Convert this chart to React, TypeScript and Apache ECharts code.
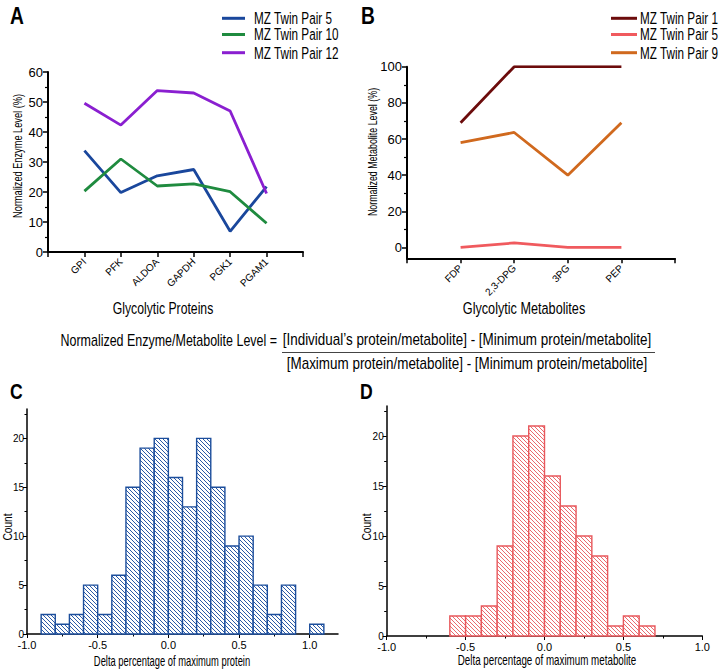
import React, { useEffect, useRef } from "react";
import * as echarts from "echarts";

// ---------- data ----------
const proteinCats = ["GPI", "PFK", "ALDOA", "GAPDH", "PGK1", "PGAM1"];
const enzymePair5 = [33.8, 19.8, 25.4, 27.5, 6.9, 21.8];
const enzymePair10 = [20.3, 31.0, 22.0, 22.7, 20.1, 9.6];
const enzymePair12 = [49.6, 42.3, 53.8, 53.0, 47.0, 19.5];

const metaboliteCats = ["FDP", "2,3-DPG", "3PG", "PEP"];
const metabPair1 = [69, 100, 100, 100];
const metabPair5 = [0, 2.5, 0, 0];
const metabPair9 = [58, 63.6, 40, 69];

const proteinBinEdges = [-0.9, -0.8, -0.7, -0.6, -0.5, -0.4, -0.3, -0.2, -0.1, 0, 0.1, 0.2, 0.3, 0.4, 0.5, 0.6, 0.7, 0.8, 0.9, 1.0, 1.1];
const proteinCounts = [2, 1, 2, 5, 2, 6, 15, 19, 20, 16, 13, 20, 15, 9, 10, 5, 2, 5, 0, 1];

const metabBinEdges = [-0.6, -0.5, -0.4, -0.3, -0.2, -0.1, 0, 0.1, 0.2, 0.3, 0.4, 0.5, 0.6, 0.7];
const metabCounts = [2, 2, 3, 9, 20, 21, 16, 13, 10, 8, 1, 2, 1];

const histXLabels = [-1, -0.5, 0, 0.5, 1];
const histXMinor = [-0.75, -0.25, 0.25, 0.75];
const countLabels = [0, 5, 10, 15, 20];
const countMinor = [2.5, 7.5, 12.5, 17.5, 22.5];
const metabYLabels = [0, 20, 40, 60, 80, 100];
const metabYMinor = [10, 30, 50, 70, 90];

const legendA = ["MZ Twin Pair 5", "MZ Twin Pair 10", "MZ Twin Pair 12"];
const legendB = ["MZ Twin Pair 1", "MZ Twin Pair 5", "MZ Twin Pair 9"];
const colorsA = ["#1a479c", "#1f8b3f", "#8a1fd0"];
const colorsB = ["#6c0c0c", "#f05a5e", "#d0691e"];

const SANS = '"Liberation Sans", Arial, sans-serif';

function hatch(color: string) {
  const c = document.createElement("canvas");
  const s = 4;
  c.width = s;
  c.height = s;
  const ctx = c.getContext("2d")!;
  ctx.fillStyle = "#ffffff";
  ctx.fillRect(0, 0, s, s);
  ctx.strokeStyle = color;
  ctx.lineWidth = 1;
  ctx.beginPath();
  ctx.moveTo(-1, -1);
  ctx.lineTo(s + 1, s + 1);
  ctx.moveTo(-1, s - 1);
  ctx.lineTo(1, s + 1);
  ctx.moveTo(s - 1, -1);
  ctx.lineTo(s + 1, 1);
  ctx.stroke();
  return { image: c, repeat: "repeat" };
}

function histData(edges: number[], counts: number[]) {
  const out: number[][] = [];
  counts.forEach((v, i) => {
    if (v > 0) out.push([edges[i], edges[i + 1], v]);
  });
  return out;
}

// condensed-looking text via horizontal scaling
function ctext(text: string, x: number, y: number, size: number, sx: number, opts: any = {}) {
  return {
    type: "text",
    x,
    y,
    scaleX: sx,
    rotation: opts.rotation || 0,
    style: {
      text,
      font: `${opts.bold ? "bold " : ""}${size}px ${SANS}`,
      fill: "#000",
      align: opts.align || "center",
      verticalAlign: "middle",
    },
  };
}

const black = { lineStyle: { color: "#000", width: 2 } };

export default function App() {
  const ref = useRef<HTMLDivElement>(null);
  useEffect(() => {
    const chart = echarts.init(ref.current!, null, { renderer: "svg" });
    const blueHatch = hatch("#2b5aa6");
    const redHatch = hatch("#ea6a6e");

    const histItem = (stroke: string, fill: any) => (params: any, api: any) => {
      const p0 = api.coord([api.value(0), api.value(2)]);
      const p1 = api.coord([api.value(1), 0]);
      return {
        type: "rect",
        shape: { x: p0[0], y: p0[1], width: p1[0] - p0[0], height: p1[1] - p0[1] },
        style: { fill, stroke, lineWidth: 1.4 },
      };
    };

    const lineSeries = (name: string, xi: number, vals: number[], color: string) => ({
      type: "line",
      name,
      xAxisIndex: xi,
      yAxisIndex: xi,
      data: [null, ...vals, null],
      symbol: "none",
      lineStyle: { color, width: 2.8 },
      itemStyle: { color },
    });

    const legendRows = (names: string[], colors: string[], x1: number, x2: number, tx: number, ys: number[]) => {
      const out: any[] = [];
      names.forEach((n, i) => {
        out.push({ type: "line", shape: { x1, y1: ys[i], x2, y2: ys[i] }, style: { stroke: colors[i], lineWidth: 3 } });
        out.push(ctext(n, tx, ys[i], 17, 0.69, { align: "left" }));
      });
      return out;
    };

    const option: any = {
      animation: false,
      backgroundColor: "#ffffff",
      grid: [
        { left: 48, top: 72, width: 255, height: 180 },
        { left: 407, top: 66.7, width: 268, height: 191.6 },
        { left: 27, top: 409, width: 311, height: 225 },
        { left: 386.7, top: 406, width: 315.6, height: 230 },
      ],
      xAxis: [
        {
          type: "category",
          gridIndex: 0,
          position: "bottom",
          boundaryGap: false,
          data: ["", ...proteinCats, ""],
          axisLine: { onZero: false, ...black },
          axisTick: { length: 5, lineStyle: { color: "#000", width: 1.5 } },
          axisLabel: { rotate: 45, fontFamily: SANS, fontSize: 10, color: "#000", margin: 8, interval: 0 },
        },
        {
          type: "category",
          gridIndex: 1,
          position: "bottom",
          boundaryGap: false,
          data: ["", ...metaboliteCats, ""],
          axisLine: { onZero: false, ...black },
          axisTick: { length: 5, lineStyle: { color: "#000", width: 1.5 } },
          axisLabel: { rotate: 45, fontFamily: SANS, fontSize: 10, color: "#000", margin: 8, interval: 0 },
        },
        {
          type: "value",
          gridIndex: 2,
          position: "bottom",
          min: -1,
          max: 1.2,
          splitLine: { show: false },
          axisLine: { onZero: false, lineStyle: { color: "#000", width: 1.5 } },
          axisTick: { show: true, length: 4, customValues: histXLabels, lineStyle: { color: "#000" } },
          axisLabel: { customValues: histXLabels, formatter: (v: number) => v.toFixed(1), fontFamily: SANS, fontSize: 11, color: "#000", margin: 5 },
        },
        {
          type: "value",
          gridIndex: 3,
          position: "bottom",
          min: -1,
          max: 1,
          splitLine: { show: false },
          axisLine: { onZero: false, lineStyle: { color: "#000", width: 1.5 } },
          axisTick: { show: true, length: 4, customValues: histXLabels, lineStyle: { color: "#000" } },
          axisLabel: { customValues: histXLabels, formatter: (v: number) => v.toFixed(1), fontFamily: SANS, fontSize: 11, color: "#000", margin: 5 },
        },
        {
          type: "value",
          gridIndex: 2,
          position: "bottom",
          min: -1,
          max: 1.2,
          splitLine: { show: false },
          axisLine: { show: false, onZero: false },
          axisTick: { show: true, length: 2.5, customValues: histXMinor, lineStyle: { color: "#000" } },
          axisLabel: { show: false },
        },
        {
          type: "value",
          gridIndex: 3,
          position: "bottom",
          min: -1,
          max: 1,
          splitLine: { show: false },
          axisLine: { show: false, onZero: false },
          axisTick: { show: true, length: 2.5, customValues: histXMinor, lineStyle: { color: "#000" } },
          axisLabel: { show: false },
        },
      ],
      yAxis: [
        {
          type: "value",
          gridIndex: 0,
          position: "left",
          min: 0,
          max: 60,
          interval: 10,
          splitLine: { show: false },
          axisLine: { show: true, onZero: false, ...black },
          axisTick: { show: true, length: 5, lineStyle: { color: "#000", width: 1.5 } },
          minorTick: { show: true, splitNumber: 2, length: 3, lineStyle: { color: "#000", width: 1.2 } },
          axisLabel: { fontFamily: SANS, fontSize: 13, color: "#000", margin: 5 },
        },
        {
          type: "value",
          gridIndex: 1,
          position: "left",
          min: -6,
          max: 100,
          splitLine: { show: false },
          axisLine: { show: true, onZero: false, ...black },
          axisTick: { show: true, length: 5, customValues: metabYLabels, lineStyle: { color: "#000", width: 1.5 } },
          axisLabel: { customValues: metabYLabels, fontFamily: SANS, fontSize: 13, color: "#000", margin: 5 },
        },
        {
          type: "value",
          gridIndex: 2,
          position: "left",
          min: 0,
          max: 23,
          splitLine: { show: false },
          axisLine: { show: true, onZero: false, lineStyle: { color: "#000", width: 1.5 } },
          axisTick: { show: true, length: 4, customValues: countLabels, lineStyle: { color: "#000" } },
          axisLabel: { customValues: countLabels, fontFamily: SANS, fontSize: 10, color: "#000", margin: 3 },
        },
        {
          type: "value",
          gridIndex: 3,
          position: "left",
          min: 0,
          max: 23,
          splitLine: { show: false },
          axisLine: { show: true, onZero: false, lineStyle: { color: "#000", width: 1.5 } },
          axisTick: { show: true, length: 4, customValues: countLabels, lineStyle: { color: "#000" } },
          axisLabel: { customValues: countLabels, fontFamily: SANS, fontSize: 10, color: "#000", margin: 3 },
        },
        {
          type: "value",
          gridIndex: 1,
          position: "left",
          min: -6,
          max: 100,
          splitLine: { show: false },
          axisLine: { show: false, onZero: false },
          axisTick: { show: true, length: 3, customValues: metabYMinor, lineStyle: { color: "#000", width: 1.2 } },
          axisLabel: { show: false },
        },
        {
          type: "value",
          gridIndex: 2,
          position: "left",
          min: 0,
          max: 23,
          splitLine: { show: false },
          axisLine: { show: false, onZero: false },
          axisTick: { show: true, length: 2.5, customValues: countMinor, lineStyle: { color: "#000" } },
          axisLabel: { show: false },
        },
        {
          type: "value",
          gridIndex: 3,
          position: "left",
          min: 0,
          max: 23,
          splitLine: { show: false },
          axisLine: { show: false, onZero: false },
          axisTick: { show: true, length: 2.5, customValues: countMinor, lineStyle: { color: "#000" } },
          axisLabel: { show: false },
        },
      ],
      series: [
        lineSeries(legendA[0], 0, enzymePair5, colorsA[0]),
        lineSeries(legendA[1], 0, enzymePair10, colorsA[1]),
        lineSeries(legendA[2], 0, enzymePair12, colorsA[2]),
        lineSeries(legendB[0], 1, metabPair1, colorsB[0]),
        lineSeries(legendB[1], 1, metabPair5, colorsB[1]),
        lineSeries(legendB[2], 1, metabPair9, colorsB[2]),
        {
          type: "custom",
          name: "protein delta",
          xAxisIndex: 2,
          yAxisIndex: 2,
          data: histData(proteinBinEdges, proteinCounts),
          encode: { x: [0, 1], y: 2 },
          renderItem: histItem("#1c4e9c", blueHatch),
          clip: false,
        },
        {
          type: "custom",
          name: "metabolite delta",
          xAxisIndex: 3,
          yAxisIndex: 3,
          data: histData(metabBinEdges, metabCounts),
          encode: { x: [0, 1], y: 2 },
          renderItem: histItem("#e8585c", redHatch),
          clip: false,
        },
      ],
      graphic: [
        ...legendRows(legendA, colorsA, 222, 245, 254, [18.3, 34.5, 52.7]),
        ...legendRows(legendB, colorsB, 611, 637, 640, [18.3, 34.5, 52.7]),
        ctext("A", 10, 16, 24, 0.8, { bold: true, align: "left" }),
        ctext("B", 361, 16, 24, 0.8, { bold: true, align: "left" }),
        ctext("C", 10, 391, 22, 0.8, { bold: true, align: "left" }),
        ctext("D", 360, 391, 22, 0.8, { bold: true, align: "left" }),
        ctext("Normalized Enzyme Level (%)", 18, 156, 12, 0.77, { rotation: Math.PI / 2 }),
        ctext("Normalized Metabolite Level (%)", 372, 152, 12, 0.74, { rotation: Math.PI / 2 }),
        ctext("Glycolytic Proteins", 163, 308, 17, 0.72),
        ctext("Glycolytic Metabolites", 524, 308, 17, 0.745),
        ctext("Normalized Enzyme/Metabolite Level =", 277, 340, 16, 0.78, { align: "right" }),
        ctext("[Individual\u2019s protein/metabolite] - [Minimum protein/metabolite]", 467, 340, 16, 0.84),
        { type: "line", shape: { x1: 282, y1: 352.5, x2: 655, y2: 352.5 }, style: { stroke: "#444", lineWidth: 1.2 } },
        ctext("[Maximum protein/metabolite] - [Minimum protein/metabolite]", 467, 364, 16, 0.84),
        ctext("Count", 8, 527, 12, 0.85, { rotation: Math.PI / 2 }),
        ctext("Count", 367, 527, 12, 0.85, { rotation: Math.PI / 2 }),
        ctext("Delta percentage of maximum protein", 172, 661, 14, 0.67),
        ctext("Delta percentage of maximum metabolite", 547, 660, 14, 0.7),
      ],
    };
    chart.setOption(option);
    return () => chart.dispose();
  }, []);
  return <div ref={ref} style={{ position: "fixed", left: 0, top: 0, width: 720, height: 669, background: "#fff" }} />;
}
